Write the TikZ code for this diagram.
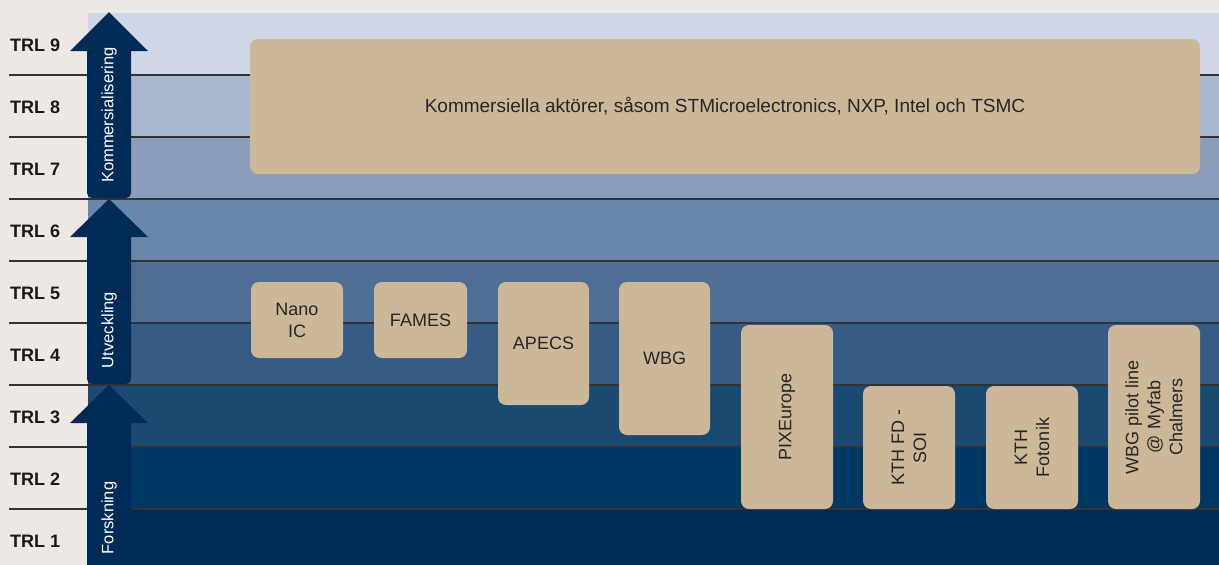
\documentclass[tikz,border=0pt]{standalone}
\usepackage{fontspec}
\setmainfont{Liberation Sans}
\definecolor{paper}{HTML}{EDE8E5}
\definecolor{navy}{HTML}{012B57}
\definecolor{sand}{HTML}{CDB799}
\definecolor{band1}{HTML}{012B57}
\definecolor{band2}{HTML}{003864}
\definecolor{band3}{HTML}{1A4A72}
\definecolor{band4}{HTML}{365B84}
\definecolor{band5}{HTML}{4E6E94}
\definecolor{band6}{HTML}{6A87A9}
\definecolor{band7}{HTML}{8A9EBA}
\definecolor{band8}{HTML}{A9B8CF}
\definecolor{band9}{HTML}{CFD6E5}
\tikzset{
    trllabel/.style={anchor=west, inner sep=0pt, text=black!90,
        font=\fontsize{18}{22}\selectfont\bfseries},
    trlline/.style={black!80, line width=1.2pt},
    phase/.style={rotate=90, inner sep=0pt, text=white,
        font=\fontsize{16.5}{19}\selectfont},
    projbox/.style={fill=sand, rounded corners=8pt, inner sep=0pt, align=center,
        text=black!85, font=\fontsize{18}{22}\selectfont},
}
\begin{document}
\begin{tikzpicture}[x=1pt, y=-1pt]
        \useasboundingbox (0, 0) rectangle (1219, 565);
        \fill[paper] (0, 0) rectangle (1219, 565);
        \clip (0, 0) rectangle (1219, 565);

        \foreach \k in {1, ..., 9} {
            \fill[band\k] (88, 571 - 62*\k) rectangle (1219, 633 - 62*\k);
            \node[trllabel] (trl\k) at (10, 603 - 62*\k) {TRL \k};
        }
        \foreach \k in {1, ..., 8} {
            \draw[trlline] (9, 571 - 62*\k) -- (1219, 571 - 62*\k);
        }

        \foreach \tip/\base/\bottom in {12/51/198, 199/237/384, 385/423/580} {
            \fill[navy] (70, \base) -- (109, \tip) -- (148, \base) -- cycle;
            \fill[navy, rounded corners=5pt] (87, \base - 6) rectangle (131, \bottom);
        }
        \node[phase] (komm) at (109, 115) {Kommersialisering};
        \node[phase] (utv) at (109, 330) {Utveckling};
        \node[phase] (forsk) at (109, 518) {Forskning};

        \node[projbox, minimum width=950pt, minimum height=135pt,
            font=\fontsize{19}{22}\selectfont] (aktorer) at (725, 106.5)
            {Kommersiella aktörer, såsom STMicroelectronics, NXP, Intel och TSMC};
        \node[projbox, minimum width=92pt, minimum height=76pt] (nano) at (297, 320) {Nano\\IC};
        \node[projbox, minimum width=93pt, minimum height=76pt] (fames) at (420.5, 320) {FAMES};
        \node[projbox, minimum width=91pt, minimum height=123pt] (apecs) at (543.5, 343.5) {APECS};
        \node[projbox, minimum width=91pt, minimum height=153pt] (wbg) at (664.5, 358.5) {WBG};
        \node[projbox, rotate=90, minimum width=184pt, minimum height=92pt] (pix) at (787, 417) {PIXEurope};
        \node[projbox, rotate=90, minimum width=123pt, minimum height=92pt] (fdsoi) at (909, 447.5) {KTH FD -\\SOI};
        \node[projbox, rotate=90, minimum width=123pt, minimum height=92pt] (fotonik) at (1032, 447.5) {KTH\\Fotonik};
        \node[projbox, rotate=90, minimum width=184pt, minimum height=92pt] (pilot) at (1154, 417) {WBG pilot line\\@ Myfab\\Chalmers};
    \end{tikzpicture}
\end{document}
